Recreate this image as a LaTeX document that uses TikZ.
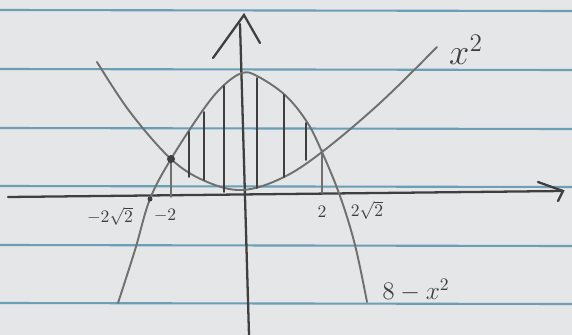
\documentclass[tikz,border=0pt]{standalone}
\usepackage{amsmath,amssymb}
\usepackage{tikz}
\usetikzlibrary{arrows.meta,calc}
\usepackage{xcolor}
\definecolor{paper}{HTML}{E5E6E8}
\definecolor{rule}{HTML}{6A9FB6}
\definecolor{lead}{HTML}{3F3F3F}
\definecolor{softlead}{HTML}{707070}
\tikzset{
  pencil/.style={lead,line width=1.3pt,line cap=round},
  curve/.style={softlead,line width=1.1pt,line cap=round},
  hatch/.style={lead,line width=1.1pt,line cap=round},
  paperline/.style={rule,line width=1.2pt},
  lbl/.style={lead,inner sep=1pt}
}

\begin{document}
\begin{tikzpicture}[x=0.02cm,y=-0.02cm]
\fill[paper] (0,0) rectangle (572,335);
\useasboundingbox (0,0) rectangle (572,335);
% ruled paper
\foreach \yy in {10,69,128,186,245,303}
  \draw[paperline] (0,\yy) -- (572,\yy+1);
% axes
\draw[pencil] (8,197) -- (563,191);
\draw[pencil] (538,182) -- (563,191) -- (558,201);
\draw[pencil] (240,24) -- (249,335);
\draw[pencil] (213,58) -- (244,15) -- (260,43);
% the two parabolas
\draw[curve] plot[smooth,tension=0.6] coordinates {(97,62) (130,112) (171,159) (205,181) (242,190) (282,178) (322,152) (380,103) (437,47)};
\draw[curve] plot[smooth,tension=0.6] coordinates {(118,303) (135,250) (150,199) (171,159) (203,110) (223,86) (242,73) (257,76) (285,95) (307,122) (322,152) (340,196) (355,245) (367,302)};
% shading between them
\foreach \hx/\ht/\hb in {189/132/177, 204/112/180, 224/86/192, 257/78/188, 284/95/177, 306/123/160}
  \draw[hatch] (\hx,\ht) -- (\hx,\hb);
% drop lines to the axis
\draw[curve] (171,159) -- (171,197);
\draw[curve] (322,150) -- (322,193);
\fill[lead] (171,159) circle (4);
\fill[lead] (150,199) circle (2.5);
% labels
\node[lbl] (sq) at (466,50) {\huge $x^2$};
\node[lbl] (cap) at (416,290) {\Large $8-x^2$};
\node[lbl] (mr) at (110,216) {$-2\sqrt{2}$};
\node[lbl] (mt) at (165,216) {$-2$};
\node[lbl] (pt) at (322,212) {$2$};
\node[lbl] (pr) at (367,210) {$2\sqrt{2}$};
\end{tikzpicture}
\end{document}
